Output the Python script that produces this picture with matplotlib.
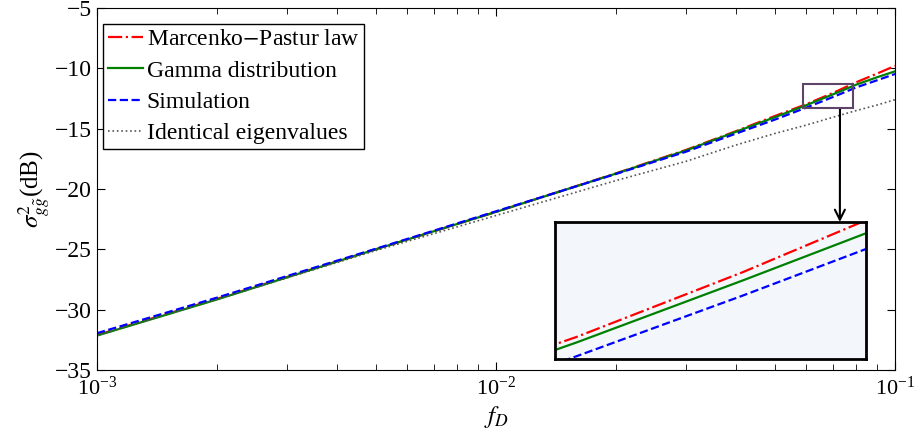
import numpy as np
import matplotlib
matplotlib.use("Agg")
import matplotlib.pyplot as plt
from matplotlib.patches import Rectangle

plt.rcParams['font.family'] = ['Liberation Serif', 'DejaVu Serif']
plt.rcParams['mathtext.fontset'] = 'stix'

# values (dB)
f_d = [0.001, 0.002, 0.005, 0.01, 0.02, 0.03, 0.04, 0.05, 0.06, 0.07, 0.08, 0.09, 0.1]
marcenko = [-32.1, -29.1, -25.0, -21.9, -18.7, -16.75, -15.2, -13.95, -12.97, -12.03, -11.15, -10.45, -9.8]
gamma = [-32.15, -29.15, -25.0, -21.9, -18.72, -16.8, -15.25, -14.05, -13.05, -12.15, -11.35, -10.75, -10.25]
simulation = [-31.95, -29.0, -24.95, -21.85, -18.75, -16.9, -15.4, -14.25, -13.25, -12.37, -11.58, -11.0, -10.47]
identical = [-32.15, -29.15, -25.1, -22.2, -19.3, -17.7, -16.35, -15.4, -14.7, -14.05, -13.5, -13.05, -12.6]

labels = ['Marcenko$-$Pastur law', 'Gamma distribution', 'Simulation', 'Identical eigenvalues']
zoom_x = (0.0588, 0.0785)
zoom_y = (-13.29, -11.3)

fig = plt.figure(figsize=(9.14, 4.41), dpi=100)
ax = fig.add_axes([0.1061, 0.161, 0.8731, 0.8209])

def draw(a):
    a.plot(f_d, marcenko, color='red', ls='-.', lw=1.6, label=labels[0])
    a.plot(f_d, gamma, color='#008000', ls='-', lw=1.6, label=labels[1])
    a.plot(f_d, simulation, color='blue', ls='--', lw=1.6, label=labels[2])
    a.plot(f_d, identical, color='#555555', ls=':', lw=1.2, label=labels[3])

draw(ax)
ax.set_xscale('log')
ax.set_xlim(1e-3, 1e-1)
ax.set_ylim(-35, -5)
ax.set_yticks(np.arange(-35, -4, 5))
ax.tick_params(which='both', direction='in', top=True, right=True, labelsize=17)
ax.tick_params(which='major', length=6)
ax.tick_params(which='minor', length=4)
ax.tick_params(axis='x', labelsize=16, pad=5)
ax.set_xlabel('$f_D$', fontsize=18, labelpad=3)
ax.set_ylabel(r'$\sigma^2_{g\tilde{g}}$(dB)', fontsize=18, labelpad=2)

leg = ax.legend(loc='upper left', bbox_to_anchor=(0.0075, 0.956), fontsize=17,
                handlelength=1.5, handletextpad=0.15, borderpad=0.2, labelspacing=0.42,
                fancybox=False, framealpha=1, edgecolor='black', borderaxespad=0)
leg.get_frame().set_linewidth(1.0)

ax.add_patch(Rectangle((zoom_x[0], zoom_y[0]), zoom_x[1] - zoom_x[0], zoom_y[1] - zoom_y[0],
                       fill=False, edgecolor='#5e4466', lw=1.5, zorder=5))

ins = fig.add_axes([0.607, 0.186, 0.3405, 0.3106])
ins.set_facecolor('#f3f7fc')
draw(ins)
ins.set_xscale('log')
ins.set_xlim(*zoom_x)
ins.set_ylim(*zoom_y)
ins.set_xticks([])
ins.set_yticks([])
ins.minorticks_off()
for s in ins.spines.values():
    s.set_linewidth(2)

ax.annotate('', xy=(0.916, 1.0), xycoords=ins.transAxes,
            xytext=(0.0728, zoom_y[0]), textcoords='data',
            arrowprops=dict(arrowstyle='->', color='black', lw=1.5, mutation_scale=18,
                            shrinkA=0, shrinkB=0))

fig.savefig('out.png', dpi=100)
